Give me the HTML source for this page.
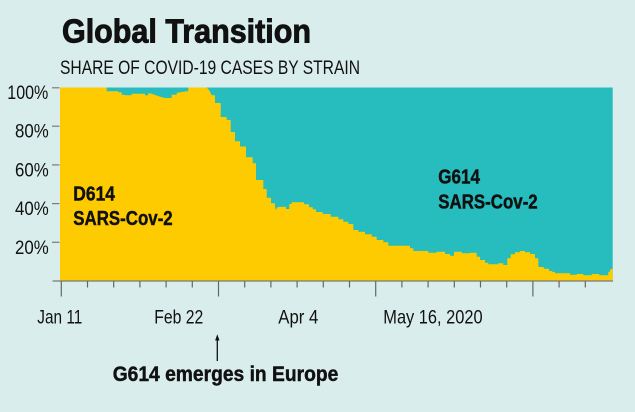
<!DOCTYPE html>
<html>
<head>
<meta charset="utf-8">
<style>
  html, body { margin:0; padding:0; }
  body { width:635px; height:412px; background:#d9eeec; overflow:hidden; }
  svg { display:block; }
  text { font-family: "Liberation Sans Narrow", "Liberation Sans", sans-serif; fill:#111; }
  .b { font-weight:bold; stroke:#111; stroke-width:0.45; }
  .t { font-weight:bold; stroke:#111; stroke-width:0.9; }
</style>
</head>
<body>
<svg width="635" height="412" viewBox="0 0 635 412" xmlns="http://www.w3.org/2000/svg">
  <rect x="0" y="0" width="635" height="412" fill="#d9eeec"/>

  <!-- Title -->
  <text class="t" x="62" y="42.7" font-size="33" textLength="249" lengthAdjust="spacingAndGlyphs">Global Transition</text>
  <text x="60" y="74" font-size="19.5" textLength="300" lengthAdjust="spacingAndGlyphs">SHARE OF COVID-19 CASES BY STRAIN</text>

  <!-- Plot: teal background -->
  <rect x="60" y="87.5" width="552.7" height="193.5" fill="#27bdbe"/>

  <!-- Yellow area -->
  <polygon fill="#fecb00" points="
    60,281 60,87.5 106.7,87.5 106.7,91.3 118.3,91.3 118.3,92.3 121.7,92.3 121.7,94.7 125,94.7 125,95.3
    131.7,95.3 131.7,93.7 145,93.7 145,95.3 148.3,95.3 148.3,93 151.7,93.7 155,95 158,96 161,97 165,98
    171.7,98 171.7,94.7 176.7,94.7 176.7,93 182,92 188.3,91 188.3,87.5 206.7,87.5 209,90 211.7,95.3
    215,95.3 215,103 220.7,103 220.7,117 226.7,117 226.7,120 230.7,120 230.7,132 235,132 235,141.3
    240,141.3 240,146.5 246,146.5 246,157.3 252.7,157.3 252.7,163.3 256,163.3 256,180 263.3,180
    263.3,189 266.7,189 266.7,197.7 271,197.7 271,203.3 275,203.3 275,207 276,210 277.7,207 286,206.7
    286,209 289.3,209 289.3,204 291.7,204 291.7,202.3 304,202.3 304,204.3 309,204.3 309,207.3
    312.7,207.3 312.7,209.3 316,209.3 316,212 322.7,212 322.7,214 330.7,214 330.7,216.7 338.3,216.7
    338.3,219.3 343.3,219.3 343.3,221.7 348.3,221.7 348.3,224 353.3,224 353.3,230 358.3,230
    358.3,231.7 365,231.7 365,234.3 371.7,234.3 371.7,236.7 376.7,236.7 376.7,240 383.3,240
    383.3,242.3 388.3,242.3 388.3,245.7 410,245.7 410,248.3 413.3,248.3 413.3,251 428.3,251
    428.3,252.7 436.7,252.7 436.7,251.7 445,251.7 445,254 450,254 450,255.7 454,255.7 454,251.7
    461.7,251.7 461.7,253.3 470,253.3 470,252.7 476.7,252.7 476.7,256.7 480,256.7 480,260 485,260
    485,262.7 488.3,262.7 488.3,264.3 498.3,264.3 498.3,263.3 503.3,263.3 503.3,265 507.3,265
    507.3,258.3 510.7,258.3 510.7,254.3 515,254.3 515,252.3 520,252.3 520,251 525,251 525,252.3
    530,252.3 530,254 535,254 535,258.3 538.3,258.3 538.3,266.7 544,267.3 544,268.7 549,268.7
    549,271 552.3,271 552.3,272 555,272 555,273.3 570,273.3 570,274.7 576.7,274.7 576.7,274
    583.3,274 583.3,275.3 591.7,275.3 591.7,274 599.3,274 599.3,275.3 608.3,275.3 608.3,271.7
    610,271.7 610,269.3 612.7,269.3 612.7,281"/>

  <!-- Axes -->
  <g stroke="#7a7a7a" stroke-width="1.2" fill="none">
    <line x1="52.5" y1="281" x2="613" y2="281"/>
    <line x1="52" y1="87.8" x2="59.5" y2="87.8"/>
    <line x1="52" y1="126.2" x2="59.5" y2="126.2"/>
    <line x1="52" y1="164.9" x2="59.5" y2="164.9"/>
    <line x1="52" y1="203.6" x2="59.5" y2="203.6"/>
    <line x1="52" y1="242.3" x2="59.5" y2="242.3"/>
  </g>
  <g stroke="#666" stroke-width="1.2">
    <line x1="61.3" y1="281" x2="61.3" y2="296.5"/>
    <line x1="87.5" y1="281" x2="87.5" y2="287.5"/>
    <line x1="113.7" y1="281" x2="113.7" y2="287.5"/>
    <line x1="139.9" y1="281" x2="139.9" y2="287.5"/>
    <line x1="166.1" y1="281" x2="166.1" y2="287.5"/>
    <line x1="192.3" y1="281" x2="192.3" y2="287.5"/>
    <line x1="218.5" y1="281" x2="218.5" y2="296.5"/>
    <line x1="244.7" y1="281" x2="244.7" y2="287.5"/>
    <line x1="270.9" y1="281" x2="270.9" y2="287.5"/>
    <line x1="297.1" y1="281" x2="297.1" y2="287.5"/>
    <line x1="323.3" y1="281" x2="323.3" y2="287.5"/>
    <line x1="349.5" y1="281" x2="349.5" y2="287.5"/>
    <line x1="375.7" y1="281" x2="375.7" y2="296.5"/>
    <line x1="401.9" y1="281" x2="401.9" y2="287.5"/>
    <line x1="428.1" y1="281" x2="428.1" y2="287.5"/>
    <line x1="454.3" y1="281" x2="454.3" y2="287.5"/>
    <line x1="480.5" y1="281" x2="480.5" y2="287.5"/>
    <line x1="506.7" y1="281" x2="506.7" y2="287.5"/>
    <line x1="532.9" y1="281" x2="532.9" y2="296.5"/>
    <line x1="559.1" y1="281" x2="559.1" y2="287.5"/>
    <line x1="585.3" y1="281" x2="585.3" y2="287.5"/>
  </g>

  <!-- Y labels -->
  <text x="7.3" y="99" font-size="19" textLength="41" lengthAdjust="spacingAndGlyphs">100%</text>
  <text x="15" y="137.7" font-size="19" textLength="33.7" lengthAdjust="spacingAndGlyphs">80%</text>
  <text x="15" y="176.4" font-size="19" textLength="33.7" lengthAdjust="spacingAndGlyphs">60%</text>
  <text x="15" y="215.1" font-size="19" textLength="33.7" lengthAdjust="spacingAndGlyphs">40%</text>
  <text x="15" y="253.8" font-size="19" textLength="33.7" lengthAdjust="spacingAndGlyphs">20%</text>

  <!-- X labels -->
  <text x="37.3" y="323.3" font-size="19.5" textLength="45" lengthAdjust="spacingAndGlyphs">Jan 11</text>
  <text x="154.3" y="323.3" font-size="19.5" textLength="49" lengthAdjust="spacingAndGlyphs">Feb 22</text>
  <text x="278.3" y="323.3" font-size="19.5" textLength="40" lengthAdjust="spacingAndGlyphs">Apr 4</text>
  <text x="383.3" y="323.3" font-size="19.5" textLength="99.3" lengthAdjust="spacingAndGlyphs">May 16, 2020</text>

  <!-- Series labels -->
  <text class="b" x="73.3" y="200.7" font-size="20" textLength="41.7" lengthAdjust="spacingAndGlyphs">D614</text>
  <text class="b" x="73.3" y="225" font-size="20" textLength="99.4" lengthAdjust="spacingAndGlyphs">SARS-Cov-2</text>
  <text class="b" x="438.3" y="183.3" font-size="20" textLength="41.7" lengthAdjust="spacingAndGlyphs">G614</text>
  <text class="b" x="438.3" y="208.3" font-size="20" textLength="99.4" lengthAdjust="spacingAndGlyphs">SARS-Cov-2</text>

  <!-- Annotation -->
  <line x1="217.3" y1="339" x2="217.3" y2="361" stroke="#111" stroke-width="1.3"/>
  <polygon points="217.3,334.3 215.1,340.5 219.5,340.5" fill="#111"/>
  <text class="b" x="112.7" y="381" font-size="21.5" textLength="225.6" lengthAdjust="spacingAndGlyphs">G614 emerges in Europe</text>
</svg>
</body>
</html>
